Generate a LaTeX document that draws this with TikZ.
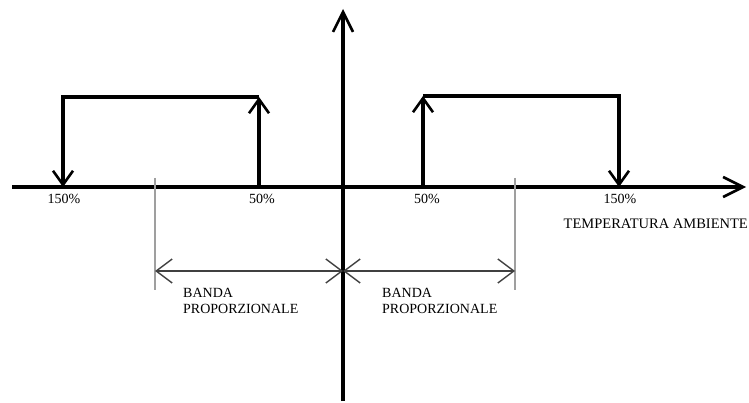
\documentclass[tikz,border=0pt]{standalone}
\usepackage{fontspec}
\setmainfont{Liberation Serif}
\usetikzlibrary{arrows.meta,positioning}

\begin{document}
\begin{tikzpicture}[
    x=1pt, y=-1pt,
    % Define styles for axes, switching arrows and bands
    axis/.style={line width=3.2pt, -{Straight Barb[length=20pt, width=20pt, line width=2.6pt]}},
    switch/.style={line width=3.4pt, line join=miter, -{Straight Barb[length=14pt, width=20pt, line width=2.6pt]}},
    guide/.style={line width=2.2pt, draw=gray!75},
    band/.style={line width=1.6pt, draw=black!75, {Straight Barb[length=16pt, width=24pt, line width=1.4pt]}-{Straight Barb[length=16pt, width=24pt, line width=1.4pt]}},
    percent/.style={font=\fontsize{14}{16}\selectfont, inner sep=0pt},
    label/.style={font=\fontsize{14}{16}\selectfont, align=left, inner sep=0pt, anchor=north west}
]

% Fix the picture size
\useasboundingbox (0,0) rectangle (749,403);

% Axes
\coordinate (xstart) at (12,187);
\coordinate (xend) at (746,187);
\coordinate (ystart) at (343,401);
\coordinate (yend) at (343,9);
\coordinate (origin) at (343,271);
\draw[axis] (xstart) -- (xend);
\draw[axis] (ystart) -- (yend);

% Left switching cycle
\coordinate (lonbase) at (259,187);
\coordinate (lontop) at (259,97);
\coordinate (loffbase) at (63,187);
\draw[switch] (lonbase) -- (lontop);
\draw[switch] (lontop) -| (loffbase);

% Right switching cycle
\coordinate (ronbase) at (423,187);
\coordinate (rontop) at (423,96);
\coordinate (roffbase) at (619,187);
\draw[switch] (ronbase) -- (rontop);
\draw[switch] (rontop) -| (roffbase);

% Percent labels on the axis
\node[percent] (lhigh) at (64,199) {150\%};
\node[percent] (llow) at (262,199) {50\%};
\node[percent] (rlow) at (427,199) {50\%};
\node[percent] (rhigh) at (620,199) {150\%};
\node[percent, font=\fontsize{14.5}{16}\selectfont, anchor=east] (temp) at (748,224) {TEMPERATURA AMBIENTE};

% Proportional band limits
\coordinate (lguidetop) at (155,178);
\coordinate (lguidebot) at (155,290);
\coordinate (rguidetop) at (515,178);
\coordinate (rguidebot) at (515,290);
\draw[guide] (lguidetop) -- (lguidebot);
\draw[guide] (rguidetop) -- (rguidebot);

% Band widths
\coordinate (lband) at (155,271);
\coordinate (rband) at (515,271);
\draw[band] (lband) -- (origin);
\draw[band] (origin) -- (rband);

% Band labels
\node[label] (lbandtext) at (183,288) {BANDA\\PROPORZIONALE};
\node[label] (rbandtext) at (382,288) {BANDA\\PROPORZIONALE};

\end{tikzpicture}
\end{document}
